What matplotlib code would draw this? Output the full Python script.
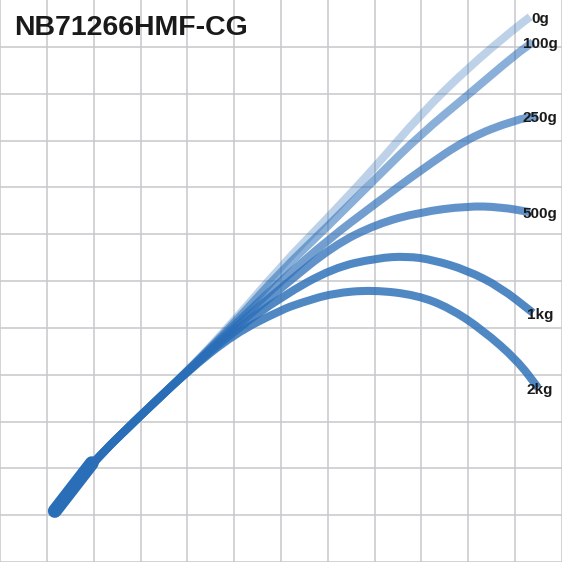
import matplotlib
matplotlib.use('Agg')
import matplotlib.pyplot as plt
from matplotlib.path import Path
from matplotlib.patches import PathPatch
import numpy as np

# chart area is a 12 x 12 grid of cells; coords below are in cell units
TITLE = 'NB71266HMF-CG'
LOADS = ['0g', '100g', '250g', '500g', '1kg', '2kg']

# shared butt section (handle) of the rod
butt_x = [1.17, 1.96]
butt_y = [1.09, 2.11]

# deflection curves (x, y in grid cells)
curve_x = {
    '0g':   [1.17, 1.96, 2.99, 3.99, 5.00, 6.00, 7.00, 7.99, 8.99, 9.99, 11.00, 11.32],
    '100g': [1.17, 1.96, 2.99, 3.99, 5.00, 6.00, 7.00, 7.99, 8.99, 9.99, 11.00, 11.38],
    '250g': [1.17, 1.96, 2.99, 3.99, 5.00, 6.00, 7.00, 7.99, 8.99, 9.99, 11.00, 11.47],
    '500g': [1.17, 1.96, 2.99, 3.99, 5.00, 6.00, 7.11, 8.05, 8.97, 9.97, 10.68, 11.32],
    '1kg':  [1.17, 1.96, 2.99, 3.99, 5.00, 6.00, 7.11, 8.05, 8.69, 9.25, 9.97, 10.68, 11.38],
    '2kg':  [1.17, 1.96, 2.99, 3.99, 5.00, 6.00, 6.41, 7.11, 7.96, 8.90, 9.61, 10.31, 11.04, 11.49],
}
curve_y = {
    '0g':   [1.09, 2.11, 3.12, 4.06, 5.15, 6.32, 7.35, 8.41, 9.57, 10.55, 11.40, 11.64],
    '100g': [1.09, 2.11, 3.12, 4.06, 5.10, 6.21, 7.17, 8.16, 9.14, 9.97, 10.83, 11.10],
    '250g': [1.09, 2.11, 3.12, 4.06, 5.06, 6.00, 6.88, 7.63, 8.37, 9.05, 9.44, 9.52],
    '500g': [1.09, 2.11, 3.12, 4.06, 5.00, 5.85, 6.75, 7.22, 7.47, 7.60, 7.58, 7.47],
    '1kg':  [1.09, 2.11, 3.12, 4.06, 4.93, 5.66, 6.28, 6.49, 6.53, 6.45, 6.23, 5.87, 5.32],
    '2kg':  [1.09, 2.11, 3.12, 4.06, 4.87, 5.38, 5.53, 5.74, 5.81, 5.70, 5.42, 4.95, 4.31, 3.72],
}

BLUE = '#2a6eb8'
alphas = {'0g': 0.31, '100g': 0.55, '250g': 0.66, '500g': 0.74, '1kg': 0.82, '2kg': 0.82}


def smooth_path(xs, ys):
    # quadratic bezier through segment midpoints, so the line has no corners
    pts = np.column_stack([xs, ys])
    verts = [pts[0], (pts[0] + pts[1]) / 2]
    codes = [Path.MOVETO, Path.LINETO]
    for i in range(1, len(pts) - 1):
        verts += [pts[i], (pts[i] + pts[i + 1]) / 2]
        codes += [Path.CURVE3, Path.CURVE3]
    verts.append(pts[-1])
    codes.append(Path.LINETO)
    return Path(verts, codes)


plt.rcParams['font.family'] = ['Liberation Sans', 'DejaVu Sans']

fig = plt.figure(figsize=(5.62, 5.62), dpi=100)
ax = fig.add_axes([0, 0, 1, 1])
ax.set_xlim(0, 12)
ax.set_ylim(0, 12)
ax.set_xticks(np.arange(0, 13))
ax.set_yticks(np.arange(0, 12))
ax.grid(True, color='#c8c8cc', linewidth=1.1)
ax.set_axisbelow(True)
ax.tick_params(length=0, labelbottom=False, labelleft=False)
for s in ax.spines.values():
    s.set_visible(False)

for name in LOADS:
    ax.add_patch(PathPatch(smooth_path(curve_x[name], curve_y[name]), fill=False,
                           edgecolor=BLUE, alpha=alphas[name], lw=5.8,
                           capstyle='butt', joinstyle='round'))

ax.plot(butt_x, butt_y, color=BLUE, lw=10, solid_capstyle='round')

for name in LOADS:
    ax.text(11.53, curve_y[name][-1] - 0.05, name, ha='center', va='center',
            fontsize=11, fontweight='bold', color='#1a1a1a')

fig.text(14 / 562, 1 - 35 / 562, TITLE, fontsize=20.5, fontweight='bold',
         color='#1a1a1a', va='baseline', ha='left')

fig.savefig('out.png', dpi=100)
